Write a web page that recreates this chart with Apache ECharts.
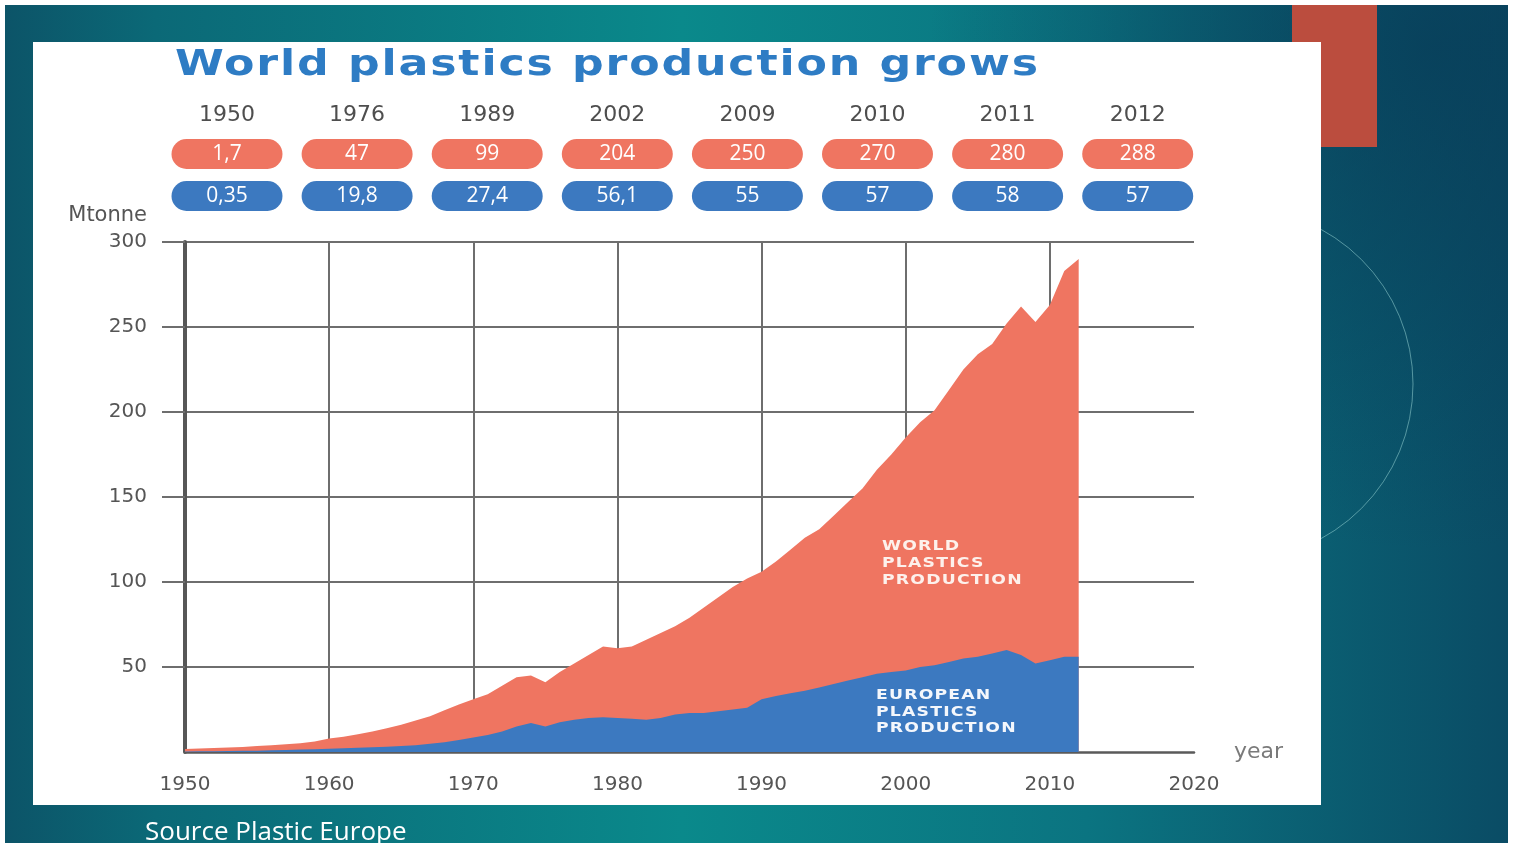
<!DOCTYPE html>
<html><head><meta charset="utf-8">
<script src="https://cdn.jsdelivr.net/npm/echarts@6/dist/echarts.min.js"></script>
<style>
html,body{margin:0;padding:0;background:#fff;overflow:hidden}
#wrap{position:relative;width:1516px;height:843px;}
#c{position:absolute;left:0;top:0;width:1516px;height:843px;}
.ov{position:absolute;white-space:nowrap;font-family:"DejaVu Sans";pointer-events:none;transform-origin:0 0;}
#title{left:175px;top:38px;font-size:36px;font-weight:bold;color:#2E7CC4;letter-spacing:1.5px;line-height:50px;transform:scaleX(1.23);}
.lab{font-size:14.5px;font-weight:bold;letter-spacing:1px;line-height:17px;transform:scaleX(1.19);}
#wl{left:882px;top:537px;color:#fdf1ec;}
#el{left:876px;top:686px;color:#f4f7fc;line-height:16.5px;}
</style>
</head><body><div id="wrap"><div id="c"></div>
<div id="title" class="ov"></div>
<div id="wl" class="ov lab"></div>
<div id="el" class="ov lab"></div>
</div>
<script>
const years = [1950,1951,1952,1953,1954,1955,1956,1957,1958,1959,1960,1961,1962,1963,1964,1965,1966,1967,1968,1969,1970,1971,1972,1973,1974,1975,1976,1977,1978,1979,1980,1981,1982,1983,1984,1985,1986,1987,1988,1989,1990,1991,1992,1993,1994,1995,1996,1997,1998,1999,2000,2001,2002,2003,2004,2005,2006,2007,2008,2009,2010,2011,2012];
const worldProduction = [1.7,2.0,2.3,2.7,3.0,3.5,4.0,4.6,5.2,6.2,8.0,9.0,10.5,12,14,16,18.5,21,24.5,28,31,34,39,44,45,41,47,52,57,62,61,62,66,70,74,79,85,91,97,102,106,112,119,126,131,139,147,155,166,175,185,194,201,213,225,234,240,252,262,253,263,283,290];
const europeProduction = [0.35,0.4,0.5,0.6,0.7,0.8,1.0,1.2,1.4,1.6,1.9,2.2,2.5,2.8,3.1,3.5,4.0,4.8,5.8,7,8.5,10,12,15,17,15,17.5,19,20,20.5,20,19.5,19,20,22,23,23,24,25,26,31,33,34.5,36,38,40,42,44,46,47,48,50,51,53,55,56,58,60,57,52,54,56,56];
const badgeYears = ['1950','1976','1989','2002','2009','2010','2011','2012'];
const badgeWorld = ['1,7','47','99','204','250','270','280','288'];
const badgeEurope = ['0,35','19,8','27,4','56,1','55','57','58','57'];
const titleText = 'World plastics production grows';
const worldLabel = ['WORLD','PLASTICS','PRODUCTION'];
const europeLabel = ['EUROPEAN','PLASTICS','PRODUCTION'];
const sourceText = 'Source Plastic Europe';

document.getElementById('title').textContent = titleText;
document.getElementById('wl').innerHTML = worldLabel.join('<br>');
document.getElementById('el').innerHTML = europeLabel.join('<br>');

const RED = '#EF7561', BLUE = '#3C79C0';
const chart = echarts.init(document.getElementById('c'), null, {renderer:'canvas'});

const worldData = years.map((y,i)=>[y, worldProduction[i]]);
const europeData = years.map((y,i)=>[y, europeProduction[i]]);

const g = [];
g.push({type:'rect', z:-10, shape:{x:5,y:5,width:1503,height:840},
  style:{fill:new echarts.graphic.LinearGradient(0,0,1,0,[
    {offset:0,color:'#0c5468'},{offset:0.1,color:'#0b6977'},{offset:0.45,color:'#0a898b'},
    {offset:0.72,color:'#0b7481'},{offset:1,color:'#0a4c65'}])}});
g.push({type:'rect', z:-9, shape:{x:5,y:5,width:1503,height:840},
  style:{fill:new echarts.graphic.RadialGradient(0.95,0.05,0.6,[
    {offset:0,color:'rgba(8,60,88,0.75)'},{offset:1,color:'rgba(8,60,88,0)'}])}});
g.push({type:'circle', z:-8, shape:{cx:1237,cy:384,r:176}, style:{fill:'none',stroke:'rgba(150,210,210,0.55)',lineWidth:1}});
g.push({type:'rect', z:-7, shape:{x:1292,y:5,width:85,height:142}, style:{fill:'#BB4D3E'}});
g.push({type:'rect', z:-6, shape:{x:33,y:42,width:1288,height:763}, style:{fill:'#ffffff'}});
const bx0 = 227, bstep = 130.1, bw = 111, bh = 30;
badgeYears.forEach((yr,i)=>{
  const cx = bx0 + i*bstep;
  g.push({type:'text', z:10, x:cx, y:115, style:{text:yr, fill:'#4e4e4e', font:'22px "DejaVu Sans"', textAlign:'center', textVerticalAlign:'middle'}});
  g.push({type:'rect', z:10, shape:{x:cx-bw/2,y:139,width:bw,height:bh,r:15}, style:{fill:RED}});
  g.push({type:'text', z:11, x:cx, y:154, style:{text:badgeWorld[i], fill:'#ffffff', font:'21px "Open Sans"', textAlign:'center', textVerticalAlign:'middle'}});
  g.push({type:'rect', z:10, shape:{x:cx-bw/2,y:181,width:bw,height:bh,r:15}, style:{fill:BLUE}});
  g.push({type:'text', z:11, x:cx, y:196, style:{text:badgeEurope[i], fill:'#ffffff', font:'21px "Open Sans"', textAlign:'center', textVerticalAlign:'middle'}});
});
g.push({type:'text', z:10, x:145, y:833, style:{text:sourceText, fill:'#ffffff', font:'26px "Open Sans"', textVerticalAlign:'middle'}});

const option = {
  animation:false,
  backgroundColor:'transparent',
  graphic:{elements:g},
  grid:{left:185, right:322, top:242, bottom:91},
  xAxis:{type:'value', min:1950, max:2020, interval:10,
    axisLine:{show:true, onZero:false, lineStyle:{color:'#5a5a5a', width:2.5}},
    axisTick:{show:false},
    axisLabel:{color:'#555', fontSize:20, fontFamily:'DejaVu Sans', margin:23, formatter:v=>String(v)},
    splitLine:{show:true, showMinLine:false, showMaxLine:false, lineStyle:{color:'#6e6e6e', width:2}},
    name:'year', nameLocation:'end', nameGap:40,
    nameTextStyle:{color:'#7a7a7a', fontSize:22, fontFamily:'DejaVu Sans', verticalAlign:'middle'}},
  yAxis:{type:'value', min:0, max:300, interval:50,
    axisLine:{show:true, lineStyle:{color:'#575757', width:4}},
    axisTick:{show:true, length:23, lineStyle:{color:'#6e6e6e', width:2}},
    axisLabel:{color:'#555', fontSize:20, fontFamily:'DejaVu Sans', margin:38, showMinLabel:false},
    splitLine:{show:true, showMinLine:false, lineStyle:{color:'#6e6e6e', width:2}},
    name:'Mtonne', nameLocation:'end', nameGap:16,
    nameTextStyle:{color:'#555', fontSize:21, fontFamily:'DejaVu Sans', align:'right', padding:[0,38,0,0]}},
  series:[
    {name:'World', type:'line', data:worldData, showSymbol:false, symbol:'none', lineStyle:{width:0}, areaStyle:{color:RED, opacity:1}, itemStyle:{color:RED}, z:2},
    {name:'Europe', type:'line', data:europeData, showSymbol:false, symbol:'none', lineStyle:{width:0}, areaStyle:{color:BLUE, opacity:1}, itemStyle:{color:BLUE}, z:3}
  ]
};
chart.setOption(option);
</script></body></html>
